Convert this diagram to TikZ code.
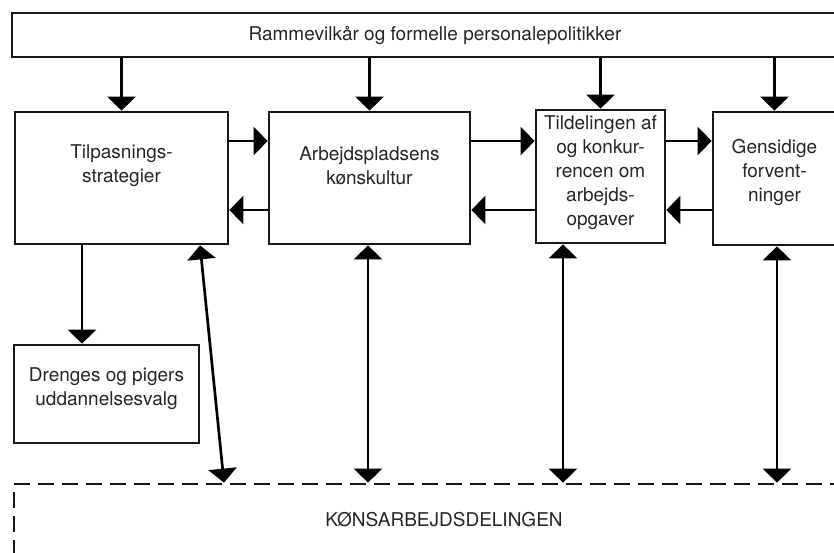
\documentclass[tikz,border=0pt]{standalone}
\usepackage{fontspec}
\setmainfont{TeX Gyre Heros}
\usetikzlibrary{arrows.meta}
\tikzset{
  box/.style={draw=black!90, line width=2.7pt, inner sep=0pt},
  txt/.style={align=center, text=black!85, font=\fontsize{19}{24}\selectfont},
  arr/.style={line width=2.7pt, -{Triangle[length=14pt,width=28pt]}},
  dblarr/.style={line width=2.7pt, {Triangle[length=14pt,width=28pt]}-{Triangle[length=14pt,width=28pt]}}
}
\begin{document}
\begin{tikzpicture}[x=1pt, y=-1pt]
  \useasboundingbox (0,0) rectangle (834,552);
  \clip (0,0) rectangle (834,552);
  % boxes
  \node[box, txt, minimum width=846pt, minimum height=44pt] (ramme) at (435,35)
    {Rammevilkår og formelle personalepolitikker};
  \node[box, minimum width=213pt, minimum height=132pt] (tilpas) at (121.5,178) {};
  \node[box, minimum width=201pt, minimum height=132pt] (arbejd) at (369.5,178) {};
  \node[box, minimum width=129pt, minimum height=133pt] (tildel) at (600.5,176.5) {};
  \node[box, minimum width=123pt, minimum height=133pt] (gensid) at (774.5,178.5) {};
  \node[box, minimum width=185pt, minimum height=98pt] (drenge) at (106.5,394) {};
  \node[box, txt, dash pattern=on 16pt off 8pt, minimum width=860pt, minimum height=72pt]
    (kons) at (444,520) {KØNSARBEJDSDELINGEN};
  % texts
  \node[txt] (tilpas-t) at ([yshift=12.5pt]tilpas.center) {Tilpasnings-\\strategier};
  \node[txt] (arbejd-t) at ([yshift=12.5pt]arbejd.center) {Arbejdspladsens\\kønskultur};
  \node[txt] (tildel-t) at ([yshift=3.5pt]tildel.center)
    {Tildelingen af\\og konkur-\\rencen om\\arbejds-\\opgaver};
  \node[txt] (gensid-t) at ([yshift=6.5pt]gensid.center) {Gensidige\\forvent-\\ninger};
  \node[txt] (drenge-t) at ([yshift=5.5pt]drenge.center) {Drenges og pigers\\uddannelsesvalg};
  % helper coordinates
  \coordinate (hi) at (0,141);
  \coordinate (lo) at (0,210);
  \coordinate (xvalg) at (82,0);
  \coordinate (xtop) at (200,0);
  \coordinate (xbot) at (224,0);
  \coordinate (xa) at (368,0);
  \coordinate (xb) at (563,0);
  \coordinate (xc) at (777,0);
  % arrows
  \foreach \b in {tilpas, arbejd, tildel, gensid}
    \draw[arr] (ramme.south -| \b.north) -- (\b.north);
  \draw[arr] (tilpas.east |- hi) -- (arbejd.west |- hi);
  \draw[arr] (arbejd.west |- lo) -- (tilpas.east |- lo);
  \draw[arr] (arbejd.east |- hi) -- (tildel.west |- hi);
  \draw[arr] (tildel.west |- lo) -- (arbejd.east |- lo);
  \draw[arr] (tildel.east |- hi) -- (gensid.west |- hi);
  \draw[arr] (gensid.west |- lo) -- (tildel.east |- lo);
  \draw[arr] (tilpas.south -| xvalg) -- (drenge.north -| xvalg);
  \draw[dblarr] (tilpas.south -| xtop) -- (kons.north -| xbot);
  \draw[dblarr] (arbejd.south -| xa) -- (kons.north -| xa);
  \draw[dblarr] (tildel.south -| xb) -- (kons.north -| xb);
  \draw[dblarr] (gensid.south -| xc) -- (kons.north -| xc);
\end{tikzpicture}
\end{document}
